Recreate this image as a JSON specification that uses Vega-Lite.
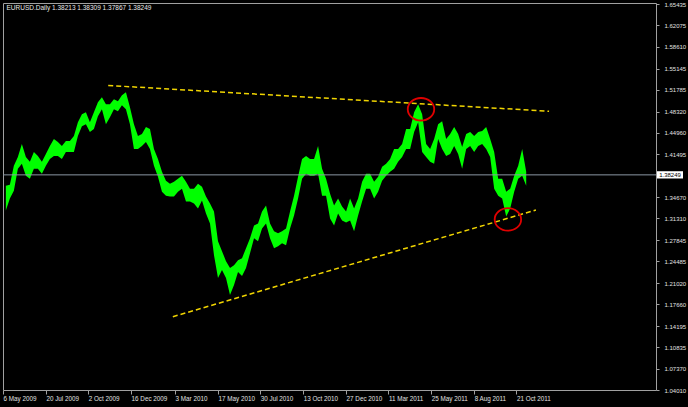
{
  "$schema": "https://vega.github.io/schema/vega-lite/v6.json",
  "width": 653,
  "height": 387,
  "autosize": "none",
  "padding": {"left": 3, "top": 3, "right": 32, "bottom": 17},
  "background": "#000000",
  "title": {
    "text": "EURUSD.Daily  1.38213 1.38309 1.37867 1.38249",
    "anchor": "start",
    "offset": -10,
    "dx": 4,
    "fontSize": 6.5,
    "font": "Liberation Sans",
    "fontWeight": "normal",
    "color": "#e8e8e8"
  },
  "config": {
    "view": {"stroke": "#a0a0a0", "strokeWidth": 1, "fill": "#000000"},
    "axis": {
      "domain": false,
      "grid": false,
      "tickColor": "#a0a0a0",
      "tickSize": 3,
      "labelColor": "#e0e0e0",
      "labelFont": "Liberation Sans",
      "labelFontSize": 6,
      "labelOverlap": false,
      "labelFlush": false,
      "labelBound": false,
      "title": null
    }
  },
  "datasets": {
    "prices": [
      {"date": "2009-05-11", "high": 1.3652, "low": 1.3257},
      {"date": "2009-05-18", "high": 1.3668, "low": 1.3447},
      {"date": "2009-05-25", "high": 1.3968, "low": 1.3573},
      {"date": "2009-06-01", "high": 1.4111, "low": 1.3921},
      {"date": "2009-06-08", "high": 1.4316, "low": 1.4000},
      {"date": "2009-06-15", "high": 1.4111, "low": 1.3810},
      {"date": "2009-06-22", "high": 1.4032, "low": 1.3763},
      {"date": "2009-06-29", "high": 1.4190, "low": 1.3921},
      {"date": "2009-07-06", "high": 1.4126, "low": 1.3921},
      {"date": "2009-07-13", "high": 1.4032, "low": 1.3842},
      {"date": "2009-07-20", "high": 1.4158, "low": 1.3968},
      {"date": "2009-07-27", "high": 1.4284, "low": 1.4079},
      {"date": "2009-08-03", "high": 1.4395, "low": 1.4126},
      {"date": "2009-08-10", "high": 1.4348, "low": 1.4126},
      {"date": "2009-08-17", "high": 1.4284, "low": 1.4079},
      {"date": "2009-08-24", "high": 1.4363, "low": 1.4190},
      {"date": "2009-08-31", "high": 1.4363, "low": 1.4190},
      {"date": "2009-09-07", "high": 1.4442, "low": 1.4190},
      {"date": "2009-09-14", "high": 1.4664, "low": 1.4442},
      {"date": "2009-09-21", "high": 1.4790, "low": 1.4600},
      {"date": "2009-09-28", "high": 1.4822, "low": 1.4632},
      {"date": "2009-10-05", "high": 1.4664, "low": 1.4506},
      {"date": "2009-10-12", "high": 1.4822, "low": 1.4553},
      {"date": "2009-10-19", "high": 1.4980, "low": 1.4758},
      {"date": "2009-10-26", "high": 1.5059, "low": 1.4869},
      {"date": "2009-11-02", "high": 1.4948, "low": 1.4632},
      {"date": "2009-11-09", "high": 1.4948, "low": 1.4743},
      {"date": "2009-11-16", "high": 1.5027, "low": 1.4869},
      {"date": "2009-11-23", "high": 1.4995, "low": 1.4837},
      {"date": "2009-11-30", "high": 1.5090, "low": 1.4932},
      {"date": "2009-12-07", "high": 1.5138, "low": 1.4869},
      {"date": "2009-12-14", "high": 1.4901, "low": 1.4632},
      {"date": "2009-12-21", "high": 1.4632, "low": 1.4237},
      {"date": "2009-12-28", "high": 1.4442, "low": 1.4237},
      {"date": "2010-01-04", "high": 1.4474, "low": 1.4284},
      {"date": "2010-01-11", "high": 1.4585, "low": 1.4348},
      {"date": "2010-01-18", "high": 1.4553, "low": 1.4237},
      {"date": "2010-01-25", "high": 1.4237, "low": 1.3968},
      {"date": "2010-02-01", "high": 1.4079, "low": 1.3795},
      {"date": "2010-02-08", "high": 1.3874, "low": 1.3558},
      {"date": "2010-02-15", "high": 1.3731, "low": 1.3494},
      {"date": "2010-02-22", "high": 1.3684, "low": 1.3479},
      {"date": "2010-03-01", "high": 1.3716, "low": 1.3479},
      {"date": "2010-03-08", "high": 1.3763, "low": 1.3558},
      {"date": "2010-03-15", "high": 1.3810, "low": 1.3605},
      {"date": "2010-03-22", "high": 1.3716, "low": 1.3400},
      {"date": "2010-03-29", "high": 1.3605, "low": 1.3400},
      {"date": "2010-04-05", "high": 1.3605, "low": 1.3368},
      {"date": "2010-04-12", "high": 1.3684, "low": 1.3289},
      {"date": "2010-04-19", "high": 1.3637, "low": 1.3415},
      {"date": "2010-04-26", "high": 1.3479, "low": 1.3210},
      {"date": "2010-05-03", "high": 1.3368, "low": 1.3052},
      {"date": "2010-05-10", "high": 1.3242, "low": 1.2546},
      {"date": "2010-05-17", "high": 1.2768, "low": 1.2183},
      {"date": "2010-05-24", "high": 1.2610, "low": 1.2309},
      {"date": "2010-05-31", "high": 1.2452, "low": 1.2183},
      {"date": "2010-06-07", "high": 1.2341, "low": 1.1914},
      {"date": "2010-06-14", "high": 1.2388, "low": 1.2072},
      {"date": "2010-06-21", "high": 1.2467, "low": 1.2278},
      {"date": "2010-06-28", "high": 1.2499, "low": 1.2215},
      {"date": "2010-07-05", "high": 1.2657, "low": 1.2341},
      {"date": "2010-07-12", "high": 1.2815, "low": 1.2578},
      {"date": "2010-07-19", "high": 1.3020, "low": 1.2815},
      {"date": "2010-07-26", "high": 1.3052, "low": 1.2768},
      {"date": "2010-08-02", "high": 1.3242, "low": 1.2973},
      {"date": "2010-08-09", "high": 1.3336, "low": 1.3052},
      {"date": "2010-08-16", "high": 1.3052, "low": 1.2815},
      {"date": "2010-08-23", "high": 1.2926, "low": 1.2657},
      {"date": "2010-08-30", "high": 1.2894, "low": 1.2689},
      {"date": "2010-09-06", "high": 1.2926, "low": 1.2736},
      {"date": "2010-09-13", "high": 1.2973, "low": 1.2704},
      {"date": "2010-09-20", "high": 1.3242, "low": 1.2973},
      {"date": "2010-09-27", "high": 1.3494, "low": 1.3178},
      {"date": "2010-10-04", "high": 1.3795, "low": 1.3447},
      {"date": "2010-10-11", "high": 1.4079, "low": 1.3763},
      {"date": "2010-10-18", "high": 1.4126, "low": 1.3842},
      {"date": "2010-10-25", "high": 1.4079, "low": 1.3810},
      {"date": "2010-11-01", "high": 1.4079, "low": 1.3810},
      {"date": "2010-11-08", "high": 1.4284, "low": 1.3842},
      {"date": "2010-11-15", "high": 1.3921, "low": 1.3494},
      {"date": "2010-11-22", "high": 1.3763, "low": 1.3494},
      {"date": "2010-11-29", "high": 1.3526, "low": 1.3131},
      {"date": "2010-12-06", "high": 1.3336, "low": 1.3020},
      {"date": "2010-12-13", "high": 1.3447, "low": 1.3210},
      {"date": "2010-12-20", "high": 1.3321, "low": 1.3099},
      {"date": "2010-12-27", "high": 1.3242, "low": 1.3068},
      {"date": "2011-01-03", "high": 1.3447, "low": 1.3099},
      {"date": "2011-01-10", "high": 1.3289, "low": 1.2926},
      {"date": "2011-01-17", "high": 1.3447, "low": 1.3178},
      {"date": "2011-01-24", "high": 1.3716, "low": 1.3400},
      {"date": "2011-01-31", "high": 1.3842, "low": 1.3605},
      {"date": "2011-02-07", "high": 1.3842, "low": 1.3605},
      {"date": "2011-02-14", "high": 1.3716, "low": 1.3447},
      {"date": "2011-02-21", "high": 1.3795, "low": 1.3558},
      {"date": "2011-02-28", "high": 1.3953, "low": 1.3731},
      {"date": "2011-03-07", "high": 1.4000, "low": 1.3810},
      {"date": "2011-03-14", "high": 1.4079, "low": 1.3874},
      {"date": "2011-03-21", "high": 1.4237, "low": 1.3921},
      {"date": "2011-03-28", "high": 1.4237, "low": 1.4032},
      {"date": "2011-04-04", "high": 1.4316, "low": 1.4111},
      {"date": "2011-04-11", "high": 1.4553, "low": 1.4237},
      {"date": "2011-04-18", "high": 1.4553, "low": 1.4237},
      {"date": "2011-04-25", "high": 1.4822, "low": 1.4506},
      {"date": "2011-05-02", "high": 1.4948, "low": 1.4664},
      {"date": "2011-05-09", "high": 1.4790, "low": 1.4190},
      {"date": "2011-05-16", "high": 1.4316, "low": 1.4111},
      {"date": "2011-05-23", "high": 1.4237, "low": 1.4032},
      {"date": "2011-05-30", "high": 1.4395, "low": 1.4000},
      {"date": "2011-06-06", "high": 1.4632, "low": 1.4395},
      {"date": "2011-06-13", "high": 1.4679, "low": 1.4237},
      {"date": "2011-06-20", "high": 1.4395, "low": 1.4126},
      {"date": "2011-06-27", "high": 1.4474, "low": 1.4158},
      {"date": "2011-07-04", "high": 1.4585, "low": 1.4284},
      {"date": "2011-07-11", "high": 1.4474, "low": 1.4158},
      {"date": "2011-07-18", "high": 1.4269, "low": 1.3921},
      {"date": "2011-07-25", "high": 1.4474, "low": 1.4237},
      {"date": "2011-08-01", "high": 1.4506, "low": 1.4284},
      {"date": "2011-08-08", "high": 1.4442, "low": 1.4190},
      {"date": "2011-08-15", "high": 1.4506, "low": 1.4284},
      {"date": "2011-08-22", "high": 1.4521, "low": 1.4316},
      {"date": "2011-08-29", "high": 1.4585, "low": 1.4237},
      {"date": "2011-09-05", "high": 1.4395, "low": 1.4111},
      {"date": "2011-09-12", "high": 1.4190, "low": 1.3605},
      {"date": "2011-09-19", "high": 1.3763, "low": 1.3494},
      {"date": "2011-09-26", "high": 1.3763, "low": 1.3447},
      {"date": "2011-10-03", "high": 1.3558, "low": 1.3163},
      {"date": "2011-10-10", "high": 1.3605, "low": 1.3289},
      {"date": "2011-10-17", "high": 1.3810, "low": 1.3558},
      {"date": "2011-10-24", "high": 1.3968, "low": 1.3763},
      {"date": "2011-10-31", "high": 1.4237, "low": 1.3810},
      {"date": "2011-11-07", "high": 1.3874, "low": 1.3652}
    ],
    "trend": [
      {"line": "upper", "date": "2009-11-06", "price": 1.5248},
      {"line": "upper", "date": "2011-12-17", "price": 1.4837},
      {"line": "lower", "date": "2010-02-27", "price": 1.1567},
      {"line": "lower", "date": "2011-11-24", "price": 1.3265}
    ],
    "circles": [
      {"date": "2011-05-07", "price": 1.4869},
      {"date": "2011-10-06", "price": 1.3115}
    ],
    "current": [
      {"date": "2012-06-21", "price": 1.38249, "label": "1.38249"}
    ]
  },
  "layer": [
    {
      "data": {"name": "prices"},
      "mark": {"type": "area", "color": "#00ff00", "opacity": 1},
      "encoding": {
        "x": {
          "field": "date", "type": "temporal",
          "scale": {"type": "utc", "domain": [{"year": 2009, "month": 5, "date": 6, "utc": true}, {"year": 2012, "month": 6, "date": 21, "utc": true}]},
          "axis": {
            "orient": "bottom",
            "values": [
              {"year": 2009, "month": 5, "date": 6, "utc": true},
              {"year": 2009, "month": 7, "date": 20, "utc": true},
              {"year": 2009, "month": 10, "date": 2, "utc": true},
              {"year": 2009, "month": 12, "date": 16, "utc": true},
              {"year": 2010, "month": 3, "date": 3, "utc": true},
              {"year": 2010, "month": 5, "date": 17, "utc": true},
              {"year": 2010, "month": 7, "date": 30, "utc": true},
              {"year": 2010, "month": 10, "date": 13, "utc": true},
              {"year": 2010, "month": 12, "date": 27, "utc": true},
              {"year": 2011, "month": 3, "date": 11, "utc": true},
              {"year": 2011, "month": 5, "date": 25, "utc": true},
              {"year": 2011, "month": 8, "date": 8, "utc": true},
              {"year": 2011, "month": 10, "date": 21, "utc": true}
            ],
            "tickCount": 30,
            "labelExpr": "utcFormat(datum.value, '%-d %b %Y')",
            "labelAlign": "left",
            "labelBaseline": "top",
            "labelPadding": 1,
            "labelFontSize": 6.3,
            "labelOverlap": false,
            "tickSize": 4
          }
        },
        "y": {
          "field": "high", "type": "quantitative",
          "scale": {"domain": [1.0401, 1.656], "zero": false, "nice": false},
          "axis": {
            "orient": "right",
            "values": [1.65435, 1.62075, 1.5861, 1.55145, 1.51785, 1.4832, 1.4496, 1.41495, 1.3467, 1.3131, 1.27845, 1.24485, 1.2102, 1.1766, 1.14195, 1.10835, 1.0737, 1.0401],
            "tickCount": 30,
            "labelExpr": "format(datum.value, '.5f')",
            "labelOverlap": false,
            "labelSeparation": 0,
            "labelPadding": 5,
            "tickSize": 3
          }
        },
        "y2": {"field": "low"}
      }
    },
    {
      "data": {"name": "current"},
      "mark": {"type": "rule", "color": "#8a96a3", "strokeWidth": 1},
      "encoding": {
        "y": {"field": "price", "type": "quantitative", "scale": {"domain": [1.0401, 1.656], "zero": false, "nice": false}}
      }
    },
    {
      "data": {"name": "trend"},
      "mark": {"type": "line", "color": "#f0d400", "strokeDash": [5, 3], "strokeWidth": 1.5},
      "encoding": {
        "x": {"field": "date", "type": "temporal"},
        "y": {"field": "price", "type": "quantitative"},
        "detail": {"field": "line"}
      }
    },
    {
      "data": {"name": "circles"},
      "mark": {"type": "point", "filled": false, "stroke": "#e00000", "strokeWidth": 1.8, "opacity": 1, "size": 700, "shape": "M -1 0 A 1 0.85 0 1 1 1 0 A 1 0.85 0 1 1 -1 0 Z"},
      "encoding": {
        "x": {"field": "date", "type": "temporal"},
        "y": {"field": "price", "type": "quantitative"}
      }
    },
    {
      "data": {"name": "current"},
      "mark": {"type": "point", "filled": true, "fill": "#ffffff", "strokeWidth": 0, "opacity": 1, "size": 676, "xOffset": 14, "shape": "M -1 -0.28 H 1 V 0.28 H -1 Z"},
      "encoding": {
        "x": {"field": "date", "type": "temporal"},
        "y": {"field": "price", "type": "quantitative"}
      }
    },
    {
      "data": {"name": "current"},
      "mark": {"type": "text", "color": "#000000", "font": "Liberation Sans", "fontSize": 6, "align": "center", "baseline": "middle", "dx": 14},
      "encoding": {
        "x": {"field": "date", "type": "temporal"},
        "y": {"field": "price", "type": "quantitative"},
        "text": {"field": "label"}
      }
    }
  ]
}
